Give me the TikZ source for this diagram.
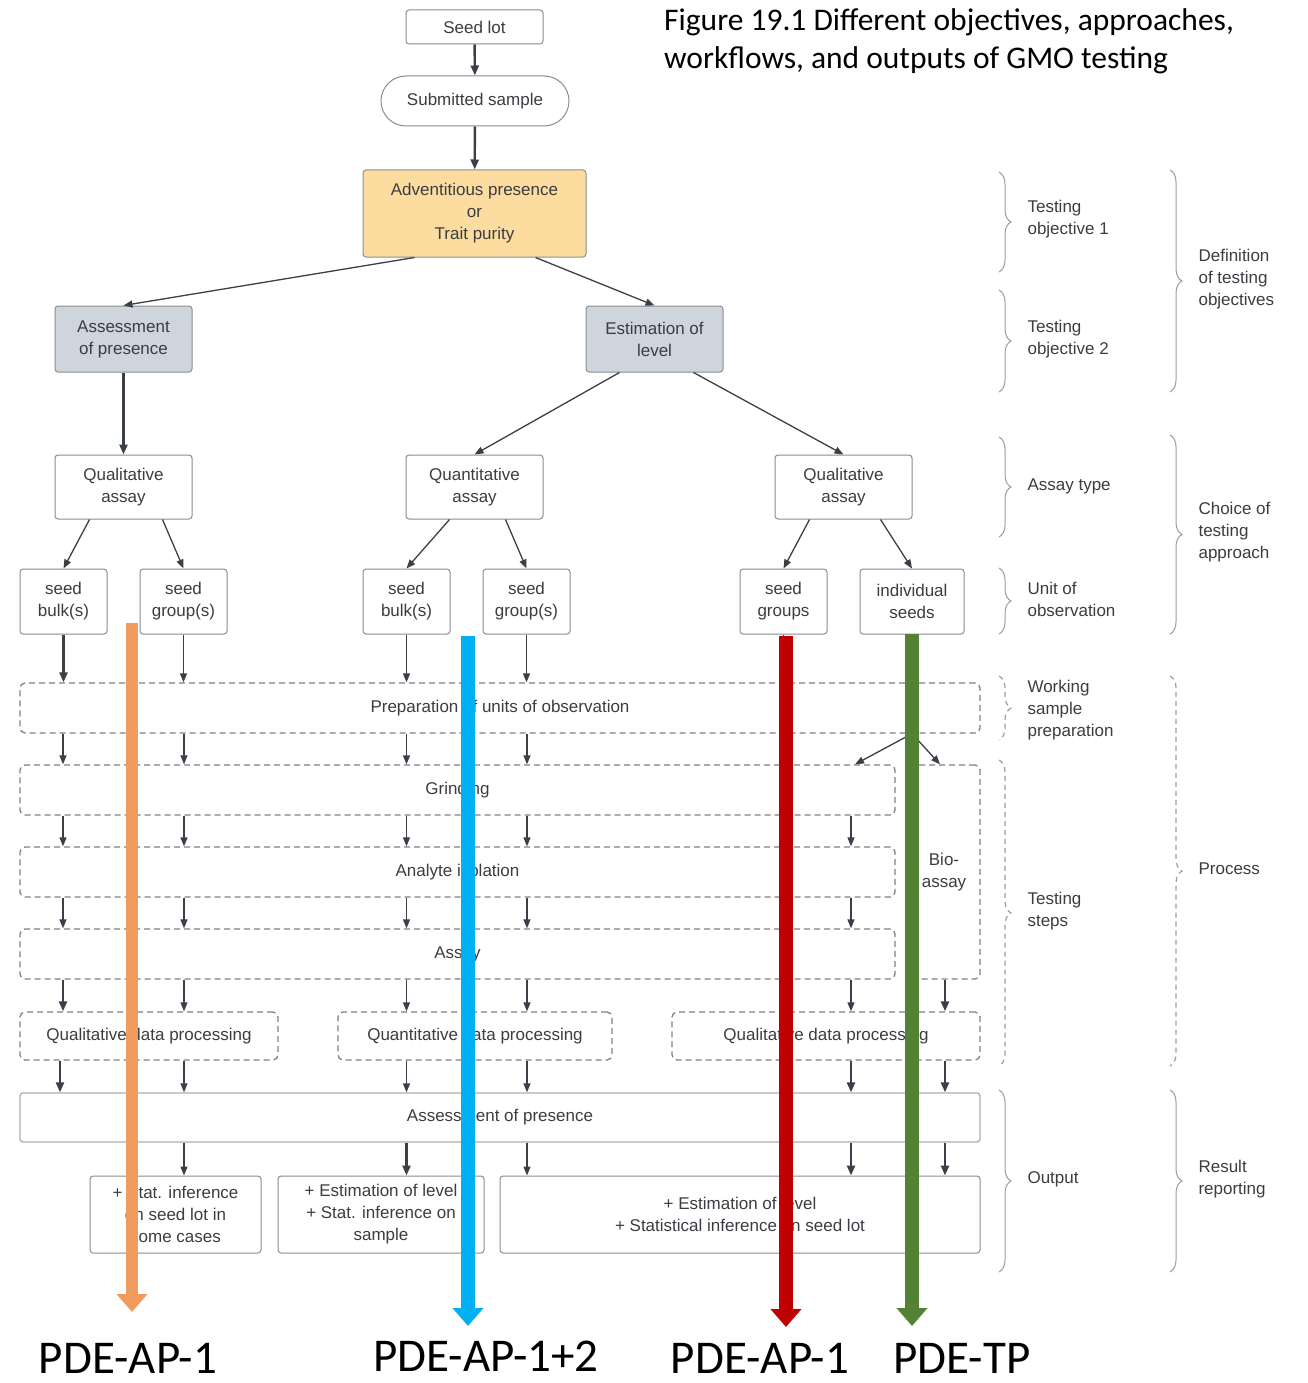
\documentclass[tikz,border=0pt]{standalone}
\usepackage{fontspec}
\setmainfont{Liberation Sans}
\newfontfamily\calibrifont{Carlito}
\usetikzlibrary{arrows.meta,calc,decorations.pathreplacing}
\definecolor{txt}{HTML}{3A3D42}
\definecolor{arrc}{HTML}{3B4048}
\definecolor{bord}{HTML}{8A8D91}
\definecolor{dbord}{HTML}{7E8185}
\definecolor{advfill}{HTML}{FDDCA0}
\definecolor{greyfill}{HTML}{CFD5DD}
\definecolor{orangebar}{HTML}{F19B5E}
\definecolor{bluebar}{HTML}{00B0F0}
\definecolor{redbar}{HTML}{C00000}
\definecolor{greenbar}{HTML}{548235}
\definecolor{brcol}{HTML}{9A9DA1}
\begin{document}
\begin{tikzpicture}[x=1pt,y=-1pt,
  every node/.style={font=\fontsize{17}{22}\selectfont, text=txt},
  box/.style={draw=bord, line width=1pt, rounded corners=3pt, align=center, inner sep=0pt},
  dbox/.style={draw=dbord, dash pattern=on 6pt off 4pt, line width=1.3pt, rounded corners=5pt, align=center, inner sep=0pt},
  conn/.style={draw=arrc, line width=1.3pt, -{Triangle[length=9pt,width=7pt]}},
  thickconn/.style={draw=arrc, line width=2.4pt, -{Triangle[length=10pt,width=8pt]}},
  brc/.style={draw=brcol, line width=1pt, decorate, decoration={brace, amplitude=12pt}},
  dbrc/.style={draw=brcol, line width=1.2pt, dash pattern=on 5pt off 4pt, decorate, decoration={brace, amplitude=12pt}},
  lab/.style={anchor=west, align=left},
  bar/.style={line width=#1, line cap=butt},
  pde/.style={anchor=base, inner sep=0pt, text=black, font=\calibrifont\fontsize{47}{50}\selectfont},
]
\useasboundingbox[fill=white] (0,0) rectangle (1307,1383);

% title
\node[anchor=base west, inner sep=0pt, text=black, font=\calibrifont\fontsize{31.5}{38}\selectfont] (title1) at (664,31)
  {Figure 19.1 Different objectives, approaches,};
\node[anchor=base west, inner sep=0pt, text=black, font=\calibrifont\fontsize{31.5}{38}\selectfont] (title2) at (664,69)
  {workflows, and outputs of GMO testing};

% top nodes
\node[box, minimum width=137pt, minimum height=34pt] (seed) at (474.5,27) {Seed lot};
\node[box, rounded corners=25pt, minimum width=188pt, minimum height=50pt] (sub) at (475,101) {Submitted sample};
\node[box, fill=advfill, minimum width=223pt, minimum height=87pt] (adv) at (474.5,213.5) {Adventitious presence\\or\\Trait purity};
\node[box, fill=greyfill, minimum width=137pt, minimum height=66pt] (assess) at (123.5,339) {Assessment\\of presence};
\node[box, fill=greyfill, minimum width=137pt, minimum height=66pt] (estim) at (654.5,339) {Estimation of\\level};

% assays
\node[box, minimum width=137pt, minimum height=64pt] (qualL) at (123.5,487) {Qualitative\\assay};
\node[box, minimum width=137pt, minimum height=64pt] (quant) at (474.5,487) {Quantitative\\assay};
\node[box, minimum width=137pt, minimum height=64pt] (qualR) at (843.5,487) {Qualitative\\assay};

% units
\node[box, minimum width=87pt, minimum height=65pt] (sbL) at (63.5,601.5) {seed\\bulk(s)};
\node[box, minimum width=87pt, minimum height=65pt] (sgL) at (183.5,601.5) {seed\\group(s)};
\node[box, minimum width=87pt, minimum height=65pt] (sbM) at (406.5,601.5) {seed\\bulk(s)};
\node[box, minimum width=87pt, minimum height=65pt] (sgM) at (526.5,601.5) {seed\\group(s)};
\node[box, minimum width=87pt, minimum height=65pt] (sgR) at (783.5,601.5) {seed\\groups};
\node[box, minimum width=104pt, minimum height=65pt] (ind) at (912,601.5) {individual\\seeds};

% dashed process rows
\node[dbox, minimum width=960pt, minimum height=50pt] (prep) at (500,708) {Preparation of units of observation};
\node[dbox, minimum width=875pt, minimum height=50pt] (grind) at (457.5,790) {Grinding};
\node[dbox, minimum width=875pt, minimum height=50pt] (anal) at (457.5,872) {Analyte isolation};
\node[dbox, minimum width=875pt, minimum height=50pt] (assay) at (457.5,954) {Assay};
\node[dbox, minimum width=72pt, minimum height=214pt] (bio) at (944,872) {Bio-\\assay};
\node[dbox, minimum width=258pt, minimum height=48pt] (qdpL) at (149,1036) {Qualitative data processing};
\node[dbox, minimum width=274pt, minimum height=48pt] (qdpM) at (475,1036) {Quantitative data processing};
\node[dbox, minimum width=308pt, minimum height=48pt] (qdpR) at (826,1036) {Qualitative data processing};

% assessment + outputs
\node[box, draw=bord!70, line width=1.3pt, minimum width=960pt, minimum height=49pt] (apres) at (500,1117.5) {Assessment of presence};
\node[box, minimum width=171pt, minimum height=77pt] (out1) at (175.5,1214.5) {+ Stat. inference\\on seed lot in\\some cases};
\node[box, minimum width=206pt, minimum height=77pt] (out2) at (381,1214.5) {+ Estimation of level\\+ Stat. inference on\\sample};
\node[box, minimum width=480pt, minimum height=77pt] (out3) at (740,1214.5) {+ Estimation of level\\+ Statistical inference on seed lot};

% top connectors
\draw[thickconn] (seed) -- (sub);
\draw[thickconn] (sub) -- (adv);
\draw[conn] ($(adv.south west)+(52,0)$) -- (assess.north);
\draw[conn] ($(adv.south east)+(-51,0)$) -- (estim.north);
\draw[thickconn] (assess) -- (qualL);
\draw[conn] ($(estim.south west)+(34,0)$) -- (quant.north);
\draw[conn] ($(estim.south east)+(-30,0)$) -- (qualR.north);
\draw[conn] ($(qualL.south west)+(35,0)$) -- (sbL.north);
\draw[conn] ($(qualL.south east)+(-30,0)$) -- (sgL.north);
\draw[conn] ($(quant.south west)+(44,0)$) -- (sbM.north);
\draw[conn] ($(quant.south east)+(-38,0)$) -- (sgM.north);
\draw[conn] ($(qualR.south west)+(35,0)$) -- (sgR.north);
\draw[conn] ($(qualR.south east)+(-32,0)$) -- (ind.north);

% unit -> preparation
\draw[thickconn] (sbL.south) -- (sbL.south |- prep.north);
\foreach \n in {sgL,sbM,sgM,sgR,ind}
  \draw[conn] (\n.south) -- (\n.south |- prep.north);

% column coordinates
\coordinate (c1) at (63,0);
\coordinate (c2) at (184,0);
\coordinate (c3) at (406.5,0);
\coordinate (c4) at (527,0);
\coordinate (c5) at (783.5,0);
\coordinate (c6) at (851,0);
\coordinate (c7) at (945,0);
\coordinate (d1) at (855,0);
\coordinate (d2) at (940,0);

% preparation -> grinding
\foreach \c in {c1,c2,c3,c4,c5}
  \draw[conn] (\c |- prep.south) -- (\c |- grind.north);
\draw[conn] (ind.south |- prep.south) -- (d1 |- grind.north);
\draw[conn] (ind.south |- prep.south) -- (d2 |- bio.north);
% grinding -> analyte -> assay
\foreach \c in {c1,c2,c3,c4,c5,c6} {
  \draw[conn] (\c |- grind.south) -- (\c |- anal.north);
  \draw[conn] (\c |- anal.south) -- (\c |- assay.north);
}
% assay -> data processing
\draw[thickconn] (c1 |- assay.south) -- (c1 |- qdpL.north);
\draw[conn] (c2 |- assay.south) -- (c2 |- qdpL.north);
\draw[conn] (c3 |- assay.south) -- (c3 |- qdpM.north);
\draw[conn] (c4 |- assay.south) -- (c4 |- qdpM.north);
\draw[conn] (c5 |- assay.south) -- (c5 |- qdpR.north);
\draw[conn] (c6 |- assay.south) -- (c6 |- qdpR.north);
\draw[thickconn] (c7 |- bio.south) -- (c7 |- qdpR.north);
% data processing -> assessment
\draw[thickconn] ($(c1 |- qdpL.south)+(-3,0)$) -- ($(c1 |- apres.north)+(-3,0)$);
\draw[conn] (c2 |- qdpL.south) -- (c2 |- apres.north);
\draw[conn] (c3 |- qdpM.south) -- (c3 |- apres.north);
\draw[conn] (c4 |- qdpM.south) -- (c4 |- apres.north);
\draw[conn] (c5 |- qdpR.south) -- (c5 |- apres.north);
\draw[thickconn] (c6 |- qdpR.south) -- (c6 |- apres.north);
\draw[thickconn] (c7 |- qdpR.south) -- (c7 |- apres.north);
% assessment -> outputs
\draw[conn] (c2 |- apres.south) -- (c2 |- out1.north);
\draw[thickconn] (c3 |- apres.south) -- (c3 |- out2.north);
\draw[conn] (c4 |- apres.south) -- (c4 |- out3.north);
\draw[conn] (c5 |- apres.south) -- (c5 |- out3.north);
\draw[thickconn] (c6 |- apres.south) -- (c6 |- out3.north);
\draw[thickconn] (c7 |- apres.south) -- (c7 |- out3.north);

% braces column 1
\draw[brc] (999,172) -- (999,272);
\draw[brc] (999,290) -- (999,392);
\draw[brc] (999,437) -- (999,537);
\draw[brc] (999,568) -- (999,634);
\draw[dbrc] (999,676) -- (999,740);
\draw[dbrc] (999,760) -- (999,1066);
\draw[brc] (999,1090) -- (999,1272);
\node[lab] (l1) at (1024,219) {Testing\\objective 1};
\node[lab] (l2) at (1024,339) {Testing\\objective 2};
\node[lab] (l3) at (1024,486) {Assay type};
\node[lab] (l4) at (1024,599) {Unit of\\observation};
\node[lab] (l5) at (1024,710) {Working\\sample\\preparation};
\node[lab] (l6) at (1024,911) {Testing\\steps};
\node[lab] (l7) at (1024,1179) {Output};
% braces column 2
\draw[brc] (1170,170) -- (1170,392);
\draw[brc] (1170,435) -- (1170,634);
\draw[dbrc] (1170,676) -- (1170,1066);
\draw[brc] (1170,1090) -- (1170,1272);
\node[lab] (r1) at (1195,279) {Definition\\of testing\\objectives};
\node[lab] (r2) at (1195,532) {Choice of\\testing\\approach};
\node[lab] (r3) at (1195,869) {Process};
\node[lab] (r4) at (1195,1179) {Result\\reporting};

% coloured pathway arrows
\coordinate (oT) at (132,623);  \coordinate (oB) at (132,1312);
\coordinate (bT) at (468,636);  \coordinate (bB) at (468,1326);
\coordinate (rT) at (786,636);  \coordinate (rB) at (786,1327);
\coordinate (gT) at (912,634);  \coordinate (gB) at (912,1326);
\draw[bar=12pt, orangebar, -{Triangle[length=18pt,width=30pt]}] (oT) -- (oB);
\draw[bar=14pt, bluebar, -{Triangle[length=18pt,width=30pt]}] (bT) -- (bB);
\draw[bar=14pt, redbar, -{Triangle[length=18pt,width=30pt]}] (rT) -- (rB);
\draw[bar=14pt, greenbar, -{Triangle[length=18pt,width=30pt]}] (gT) -- (gB);

% pathway labels
\node[pde] (p1) at (128,1373) {PDE-AP-1};
\node[pde] (p2) at (486,1371) {PDE-AP-1+2};
\node[pde] (p3) at (760,1373) {PDE-AP-1};
\node[pde] (p4) at (962,1373) {PDE-TP};
\end{tikzpicture}
\end{document}
